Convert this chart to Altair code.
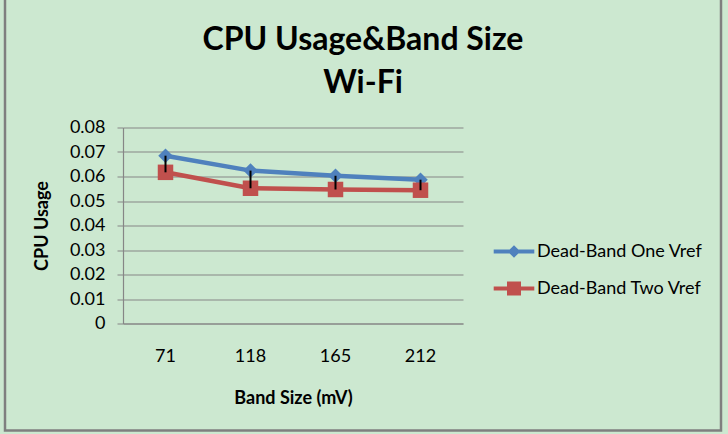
import altair as alt
import pandas as pd

categories = ["71", "118", "165", "212"]
series_names = ["Dead-Band One Vref", "Dead-Band Two Vref"]
one_vref = [0.0685, 0.0624, 0.0603, 0.0587]
two_vref = [0.0617, 0.0552, 0.0547, 0.0544]
y_ticks = [0, 0.01, 0.02, 0.03, 0.04, 0.05, 0.06, 0.07, 0.08]

BLUE = "#4F81BD"
RED = "#C0504D"
BG = "#CCE8D0"
FONT = "Lato"

long_df = pd.DataFrame({
    "band": categories * 2,
    "series": [series_names[0]] * 4 + [series_names[1]] * 4,
    "cpu": one_vref + two_vref,
})
wide_df = pd.DataFrame({"band": categories, "hi": one_vref, "lo": two_vref})

x_axis = alt.Axis(labelAngle=0, ticks=False, tickSize=0, labelPadding=24,
                  titlePadding=24, grid=False)
y_axis = alt.Axis(values=y_ticks, format="~g", tickSize=6, labelPadding=12,
                  labelOverlap=False, titlePadding=18, grid=True)
y_scale = alt.Scale(domain=[0, 0.08], nice=False)

x_enc = alt.X("band:N", sort=categories, title="Band Size (mV)",
              scale=alt.Scale(paddingInner=0, paddingOuter=0), axis=x_axis)
y_enc = alt.Y("cpu:Q", title="CPU Usage", scale=y_scale, axis=y_axis)
color_enc = alt.Color("series:N", sort=series_names,
                      scale=alt.Scale(domain=series_names, range=[BLUE, RED]),
                      legend=alt.Legend(title=None))

base = alt.Chart(long_df)

lines = base.mark_line(strokeWidth=4.5).encode(x=x_enc, y=y_enc, color=color_enc)

diamonds = base.transform_filter(alt.datum.series == series_names[0]).mark_point(
    shape="diamond", filled=True, size=210, opacity=1
).encode(x=x_enc, y=y_enc, color=color_enc)

squares = base.transform_filter(alt.datum.series == series_names[1]).mark_point(
    shape="square", filled=True, size=240, opacity=1
).encode(x=x_enc, y=y_enc, color=color_enc)

legend_paths = [
    "M-2.9,-0.28 H-0.62 L0,-0.9 L0.62,-0.28 H2.9 V0.28 H0.62 L0,0.9 L-0.62,0.28 H-2.9 Z",
    "M-2.9,-0.28 H-1 V-1 H1 V-0.28 H2.9 V0.28 H1 V1 H-1 V0.28 H-2.9 Z",
]
legend_layer = base.mark_point(filled=True, opacity=0, size=196).encode(
    x=x_enc, y=y_enc, color=color_enc,
    shape=alt.Shape("series:N", sort=series_names,
                    scale=alt.Scale(domain=series_names, range=legend_paths),
                    legend=alt.Legend(title=None)),
)

hilo = alt.Chart(wide_df).mark_rule(color="black", strokeWidth=2).encode(
    x=alt.X("band:N", sort=categories, title="Band Size (mV)", axis=x_axis),
    y=alt.Y("hi:Q", title="CPU Usage", scale=y_scale, axis=y_axis),
    y2="lo:Q",
)

frame = alt.Chart(pd.DataFrame({"k": [0]})).mark_rect(
    fill=None, stroke="#7F7F7F", strokeWidth=2.5
).encode(x=alt.value(-118), x2=alt.value(598), y=alt.value(-140), y2=alt.value(303))

chart = alt.layer(lines, diamonds, squares, legend_layer, hilo, frame).properties(
    width=340, height=196,
    autosize=alt.AutoSizeParams(type="none"),
    padding={"left": 123, "top": 127.5, "right": 265, "bottom": 110.5},
    background=BG,
    title=alt.TitleParams(
        text=["CPU Usage&Band Size", "Wi-Fi"],
        font=FONT, fontSize=32, fontWeight="bold", color="black",
        anchor="middle", frame="group", dx=70, offset=-114, lineHeight=43,
    ),
).configure_view(stroke=None).configure_axis(
    labelFont=FONT, labelFontSize=18, labelColor="black",
    titleFont=FONT, titleFontSize=18, titleFontWeight="bold", titleColor="black",
    domainColor="#868686", tickColor="#868686", gridColor="#868686",
    gridWidth=1.2, domainWidth=1.2,
).configure_legend(
    orient="none", legendX=382, legendY=115, padding=0,
    labelFont=FONT, labelFontSize=18, labelColor="black", labelLimit=400,
    symbolSize=196, symbolOpacity=1, symbolStrokeWidth=0,
    labelOffset=14, rowPadding=19,
)

chart.save("out.html", embed_options={"renderer": "svg", "actions": False})
